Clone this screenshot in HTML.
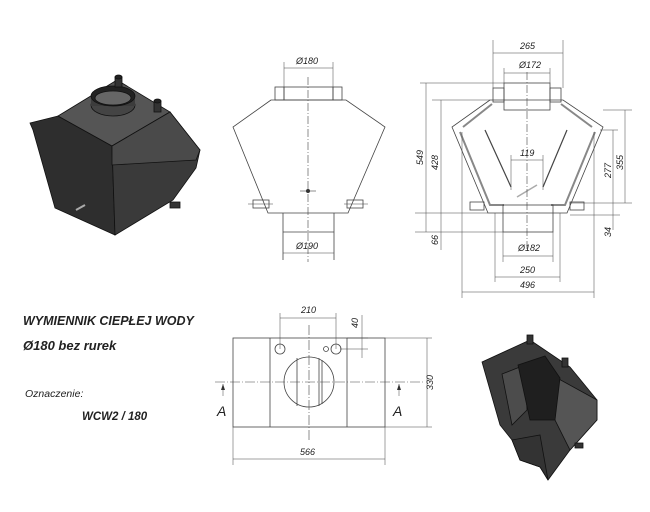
<!DOCTYPE html>
<html><head><meta charset="utf-8"><style>
html,body{margin:0;padding:0;background:#fff;width:650px;height:512px;overflow:hidden}
svg{display:block}
text{font-family:"Liberation Sans",sans-serif;font-style:italic;fill:#222}
</style></head><body>
<svg width="650" height="512" viewBox="0 0 650 512" xmlns="http://www.w3.org/2000/svg">
<!-- 3D object 1 -->
<g stroke="#111" stroke-width="0.8">
<polygon points="30,123 58,116 112,146 115,235 55,208 33,130" fill="#2e2e2e"/>
<polygon points="58,116 117,80 170,112 112,146" fill="#555"/>
<polygon points="112,146 170,112 200,150 196,168 173,200 115,235" fill="#3a3a3a"/>
<polygon points="170,112 200,150 196,160 112,165 112,146" fill="#4a4a4a"/>
<ellipse cx="113" cy="105" rx="22" ry="11" fill="#444"/>
<rect x="91" y="96" width="44" height="10" fill="#3c3c3c" stroke="none"/>
<ellipse cx="113" cy="96" rx="22" ry="10" fill="#222"/>
<ellipse cx="113" cy="98" rx="18" ry="7" fill="#666"/>
<rect x="115" y="77" width="7" height="10" fill="#333"/>
<ellipse cx="118.5" cy="77" rx="3.5" ry="2" fill="#222"/>
<rect x="154" y="101" width="7" height="11" fill="#333"/>
<ellipse cx="157.5" cy="101" rx="3.5" ry="2" fill="#222"/>
<rect x="170" y="202" width="10" height="6" fill="#333"/>
<line x1="76" y1="210" x2="85" y2="205" stroke="#aaa" stroke-width="2"/>
</g>
<!-- 3D object 2 -->
<g stroke="#111" stroke-width="0.8">
<polygon points="482,362 530,340 570,367 597,400 597,420 570,450 548,480 540,467 520,460 512,440 500,425" fill="#3a3a3a"/>
<polygon points="557,378 597,400 597,420 570,450 555,420" fill="#555"/>
<polygon points="502,374 525,365 527,410 512,425" fill="#4c4c4c"/>
<polygon points="518,365 545,356 560,378 555,420 530,420" fill="#1f1f1f"/>
<polygon points="512,440 540,435 548,480 540,467 520,460" fill="#333"/>
<rect x="527" y="335" width="6" height="9" fill="#333"/>
<rect x="562" y="358" width="6" height="9" fill="#333"/>
<rect x="575" y="443" width="8" height="5" fill="#333"/>
</g>
<!-- middle front view -->
<g fill="none" stroke="#444" stroke-width="0.8">
<polygon points="271,100 233,127 268,213 348,213 385,127 346,100"/>
<rect x="284" y="87" width="49" height="13"/>
<rect x="275" y="87" width="9" height="13"/>
<rect x="333" y="87" width="9" height="13"/>
<polyline points="283,213 283,260"/><polyline points="334,213 334,260"/>
<line x1="283" y1="232" x2="334" y2="232"/>
<rect x="253" y="200" width="16" height="8"/><rect x="347" y="200" width="16" height="8"/>
<line x1="308" y1="77" x2="308" y2="262" stroke-dasharray="8,2,1,2" stroke-width="0.6"/>
<line x1="300" y1="191" x2="316" y2="191" stroke-width="0.6"/>
<line x1="248" y1="204" x2="273" y2="204" stroke-width="0.5"/><line x1="344" y1="204" x2="368" y2="204" stroke-width="0.5"/>
<line x1="284" y1="62" x2="284" y2="87" stroke-width="0.5"/><line x1="333" y1="62" x2="333" y2="87" stroke-width="0.5"/>
<line x1="284" y1="68" x2="333" y2="68" stroke-width="0.5"/>
<line x1="283" y1="253" x2="334" y2="253" stroke-width="0.5"/>
</g>
<circle cx="308" cy="191" r="2" fill="#333"/>
<text x="296" y="64" font-size="9">Ø180</text>
<text x="296" y="249" font-size="9">Ø190</text>
<!-- right section view -->
<g fill="none" stroke="#444" stroke-width="0.8">
<polygon points="490,100 452,127 488,213 567,213 603,127 563,100"/>
<polyline points="460,132 490,205 504,205" stroke="#888" stroke-width="2"/>
<polyline points="595,132 565,205 551,205" stroke="#888" stroke-width="2"/>
<polyline points="492,104 463,127" stroke="#888" stroke-width="2"/>
<polyline points="561,104 592,127" stroke="#888" stroke-width="2"/>
<rect x="504" y="83" width="46" height="27"/>
<rect x="493" y="88" width="11" height="14"/><rect x="550" y="88" width="11" height="14"/>
<rect x="503" y="205" width="50" height="27"/>
<line x1="485" y1="130" x2="511" y2="187" stroke-width="1.2"/>
<line x1="567" y1="130" x2="543" y2="187" stroke-width="1.2"/>
<line x1="517" y1="197" x2="537" y2="185" stroke="#aaa" stroke-width="1.5"/>
<rect x="470" y="202" width="14" height="8"/><rect x="570" y="202" width="14" height="8"/>
<line x1="527" y1="72" x2="527" y2="250" stroke-dasharray="8,2,1,2" stroke-width="0.6"/>
<g stroke-width="0.5">
<line x1="493" y1="40" x2="493" y2="88"/><line x1="563" y1="40" x2="563" y2="88"/><line x1="493" y1="53" x2="563" y2="53"/>
<line x1="504" y1="68" x2="504" y2="83"/><line x1="550" y1="68" x2="550" y2="83"/><line x1="504" y1="73" x2="550" y2="73"/>
<line x1="420" y1="83" x2="504" y2="83"/><line x1="432" y1="100" x2="490" y2="100"/>
<line x1="415" y1="232" x2="503" y2="232"/><line x1="415" y1="213" x2="488" y2="213"/>
<line x1="426" y1="83" x2="426" y2="232"/><line x1="441" y1="100" x2="441" y2="250"/>
<line x1="511" y1="155" x2="511" y2="190"/><line x1="543" y1="155" x2="543" y2="190"/><line x1="511" y1="160" x2="543" y2="160"/>
<line x1="503" y1="232" x2="503" y2="262"/><line x1="553" y1="232" x2="553" y2="262"/><line x1="503" y1="256" x2="553" y2="256"/>
<line x1="495" y1="213" x2="495" y2="282"/><line x1="560" y1="213" x2="560" y2="282"/><line x1="495" y1="277" x2="560" y2="277"/>
<line x1="462" y1="132" x2="462" y2="298"/><line x1="594" y1="132" x2="594" y2="298"/><line x1="462" y1="292" x2="594" y2="292"/>
<line x1="603" y1="110" x2="632" y2="110"/><line x1="600" y1="130" x2="618" y2="130"/>
<line x1="570" y1="203" x2="632" y2="203"/><line x1="570" y1="215" x2="620" y2="215"/>
<line x1="625" y1="110" x2="625" y2="203"/><line x1="613" y1="130" x2="613" y2="230"/>
</g>
</g>
<g font-size="9">
<text x="520" y="49">265</text><text x="519" y="68">Ø172</text>
<text x="520" y="156">119</text><text x="518" y="251">Ø182</text>
<text x="520" y="273">250</text><text x="520" y="288">496</text>
<text transform="translate(423,165) rotate(-90)">549</text>
<text transform="translate(438,170) rotate(-90)">428</text>
<text transform="translate(438,245) rotate(-90)">66</text>
<text transform="translate(611,178) rotate(-90)">277</text>
<text transform="translate(623,170) rotate(-90)">355</text>
<text transform="translate(611,237) rotate(-90)">34</text>
</g>
<!-- bottom plan view -->
<g fill="none" stroke="#444" stroke-width="0.8">
<rect x="233" y="338" width="152" height="89"/>
<line x1="270" y1="338" x2="270" y2="427"/><line x1="347" y1="338" x2="347" y2="427"/>
<circle cx="309" cy="382" r="25"/>
<line x1="297" y1="358" x2="297" y2="406"/><line x1="319" y1="358" x2="319" y2="406"/><line x1="322" y1="360" x2="322" y2="404"/>
<circle cx="280" cy="349" r="5"/><circle cx="336" cy="349" r="5"/><circle cx="326" cy="349" r="2.5"/>
<line x1="215" y1="382" x2="425" y2="382" stroke-dasharray="10,2,1,2" stroke-width="0.6"/>
<line x1="309" y1="325" x2="309" y2="442" stroke-dasharray="10,2,1,2" stroke-width="0.6"/>
<g stroke-width="0.5">
<line x1="280" y1="313" x2="280" y2="349"/><line x1="336" y1="313" x2="336" y2="349"/><line x1="280" y1="318" x2="336" y2="318"/>
<line x1="347" y1="338" x2="368" y2="338"/><line x1="340" y1="349" x2="368" y2="349"/><line x1="362" y1="315" x2="362" y2="358"/>
<line x1="385" y1="338" x2="432" y2="338"/><line x1="385" y1="427" x2="432" y2="427"/><line x1="427" y1="338" x2="427" y2="427"/>
<line x1="233" y1="427" x2="233" y2="465"/><line x1="385" y1="427" x2="385" y2="465"/><line x1="233" y1="459" x2="385" y2="459"/>
<line x1="223" y1="384" x2="223" y2="396"/><line x1="399" y1="384" x2="399" y2="396"/>
</g>
</g>
<polygon points="223,384 221,390 225,390" fill="#333"/><polygon points="399,384 397,390 401,390" fill="#333"/>
<g font-size="9">
<text x="301" y="313">210</text>
<text transform="translate(358,328) rotate(-90)">40</text>
<text transform="translate(433,390) rotate(-90)">330</text>
<text x="300" y="455">566</text>
</g>
<text x="217" y="416" font-size="14">A</text><text x="393" y="416" font-size="14">A</text>
<!-- text -->
<text x="23" y="325" font-size="12.5" font-weight="bold">WYMIENNIK CIEPŁEJ WODY</text>
<text x="23" y="350" font-size="13" font-weight="bold">Ø180 bez rurek</text>
<text x="25" y="397" font-size="10.5" font-weight="normal">Oznaczenie:</text>
<text x="82" y="420" font-size="11.5" font-weight="bold">WCW2 / 180</text>
</svg>
</body></html>
